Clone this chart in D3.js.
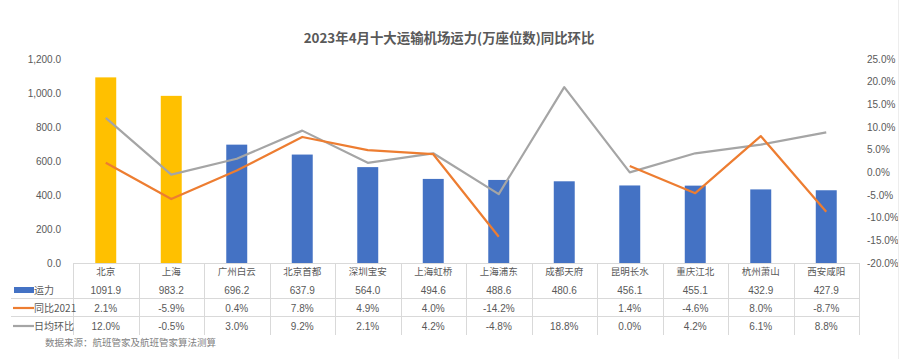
<!DOCTYPE html>
<html><head><meta charset="utf-8">
<script src="https://cdn.jsdelivr.net/npm/d3@7"></script>
<style>
body{margin:0;background:#fff;}
svg{display:block;font-family:"Noto Sans CJK SC","Noto Sans",sans-serif;}
</style></head>
<body>
<svg id="chart" width="902" height="359"></svg>
<script>
const title = "2023年4月十大运输机场运力(万座位数)同比环比";
const categories = ["北京","上海","广州白云","北京首都","深圳宝安","上海虹桥","上海浦东","成都天府","昆明长水","重庆江北","杭州萧山","西安咸阳"];
const capacity = [1091.9,983.2,696.2,637.9,564.0,494.6,488.6,480.6,456.1,455.1,432.9,427.9];
const yoy2021 = [2.1,-5.9,0.4,7.8,4.9,4.0,-14.2,null,1.4,-4.6,8.0,-8.7];
const dailyMoM = [12.0,-0.5,3.0,9.2,2.1,4.2,-4.8,18.8,0.0,4.2,6.1,8.8];
const highlight = ["北京","上海"];
const leftTicks = [0,200,400,600,800,1000,1200];
const rightTicks = [-20,-15,-10,-5,0,5,10,15,20,25];
const seriesNames = ["运力","同比2021","日均环比"];
const source = "数据来源：航班管家及航班管家算法测算";

const svg = d3.select("#chart");
const L = 73, R = 859, T = 59, B = 263;
const x = d3.scaleBand().domain(categories).range([L, R]).paddingInner(0).paddingOuter(0);
const yL = d3.scaleLinear().domain([0,1200]).range([B, T]);
const yR = d3.scaleLinear().domain([-20,25]).range([B, T]);
const bw = x.bandwidth()*0.32;
const BLUE="#4472C4", YELLOW="#FFC000", ORANGE="#ED7D31", GRAY="#A5A5A5", TXT="#595959", LINE="#D9D9D9";

svg.append("text").attr("x",449).attr("y",43).attr("text-anchor","middle")
  .attr("font-size",13.4).attr("font-weight","bold").attr("fill",TXT).text(title);

// left axis
const la = svg.append("g").attr("transform",`translate(${L-12},0)`)
  .call(d3.axisLeft(yL).tickValues(leftTicks).tickSize(0).tickPadding(0)
  .tickFormat(d=>d3.format(",.1f")(d)));
la.select(".domain").remove();
la.selectAll("text").attr("font-size",10).attr("fill",TXT).attr("font-family","Liberation Sans, sans-serif").attr("dy","0.32em");

// right axis
const ra = svg.append("g").attr("transform",`translate(${R+8},0)`)
  .call(d3.axisRight(yR).tickValues(rightTicks).tickSize(0).tickPadding(0)
  .tickFormat(d=>d.toFixed(1)+"%"));
ra.select(".domain").remove();
ra.selectAll("text").attr("font-size",10).attr("fill",TXT).attr("font-family","Liberation Sans, sans-serif").attr("dy","0.32em");

// bars
svg.append("g").selectAll("rect").data(categories).join("rect")
  .attr("x",d=>x(d)+x.bandwidth()/2-bw/2)
  .attr("y",(d,i)=>yL(capacity[i]))
  .attr("width",bw)
  .attr("height",(d,i)=>B-yL(capacity[i]))
  .attr("fill",d=>highlight.includes(d)?YELLOW:BLUE);

// lines
const cx = d=>x(d)+x.bandwidth()/2;
const lineGen = d3.line().defined(d=>d.v!==null).x(d=>cx(d.c)).y(d=>yR(d.v));
svg.append("path").datum(categories.map((c,i)=>({c,v:dailyMoM[i]})))
  .attr("d",lineGen).attr("fill","none").attr("stroke",GRAY).attr("stroke-width",2.2).attr("stroke-linejoin","round");
svg.append("path").datum(categories.map((c,i)=>({c,v:yoy2021[i]})))
  .attr("d",lineGen).attr("fill","none").attr("stroke",ORANGE).attr("stroke-width",2.2).attr("stroke-linejoin","round");

// table
const tb = svg.append("g");
const rowY = [272, 290, 308, 326];
tb.append("line").attr("x1",L).attr("x2",R).attr("y1",B+0.5).attr("y2",B+0.5).attr("stroke",LINE);
[298.5, 316.5].forEach(yy=>tb.append("line").attr("x1",11).attr("x2",R).attr("y1",yy).attr("y2",yy).attr("stroke",LINE));
d3.range(categories.length+1).forEach(i=>{
  const xx = Math.round(L + i*x.bandwidth())+0.5;
  tb.append("line").attr("x1",xx).attr("x2",xx).attr("y1",B).attr("y2",335).attr("stroke",LINE);
});
const fmtPct = v=> v===null?"":v.toFixed(1)+"%";
const rows = [categories, capacity.map(v=>v.toFixed(1)), yoy2021.map(fmtPct), dailyMoM.map(fmtPct)];
rows.forEach((r,ri)=>{
  tb.append("g").selectAll("text").data(r).join("text")
    .attr("x",(d,i)=>cx(categories[i])).attr("y",rowY[ri]).attr("dy","0.35em")
    .attr("text-anchor","middle").attr("font-size",ri===0?9.5:10).attr("fill",TXT)
    .attr("font-family",ri===0?"Noto Sans CJK SC, sans-serif":"Liberation Sans, sans-serif")
    .text(d=>d);
});
// legend keys
tb.append("rect").attr("x",14).attr("y",rowY[1]-3).attr("width",20).attr("height",6).attr("fill",BLUE);
tb.append("line").attr("x1",13).attr("x2",34).attr("y1",rowY[2]).attr("y2",rowY[2]).attr("stroke",ORANGE).attr("stroke-width",2.2);
tb.append("line").attr("x1",13).attr("x2",34).attr("y1",rowY[3]).attr("y2",rowY[3]).attr("stroke",GRAY).attr("stroke-width",2.2);
seriesNames.forEach((n,i)=>{
  tb.append("text").attr("x",34).attr("y",rowY[i+1]).attr("dy","0.35em").attr("font-size",10).attr("fill",TXT).text(n);
});

svg.append("text").attr("x",45).attr("y",343).attr("dy","0.35em").attr("font-size",9.5).attr("fill","#7F7F7F").text(source);
svg.append("line").attr("x1",898.5).attr("x2",898.5).attr("y1",0).attr("y2",359).attr("stroke","#EDEDED");
</script>
</body></html>
